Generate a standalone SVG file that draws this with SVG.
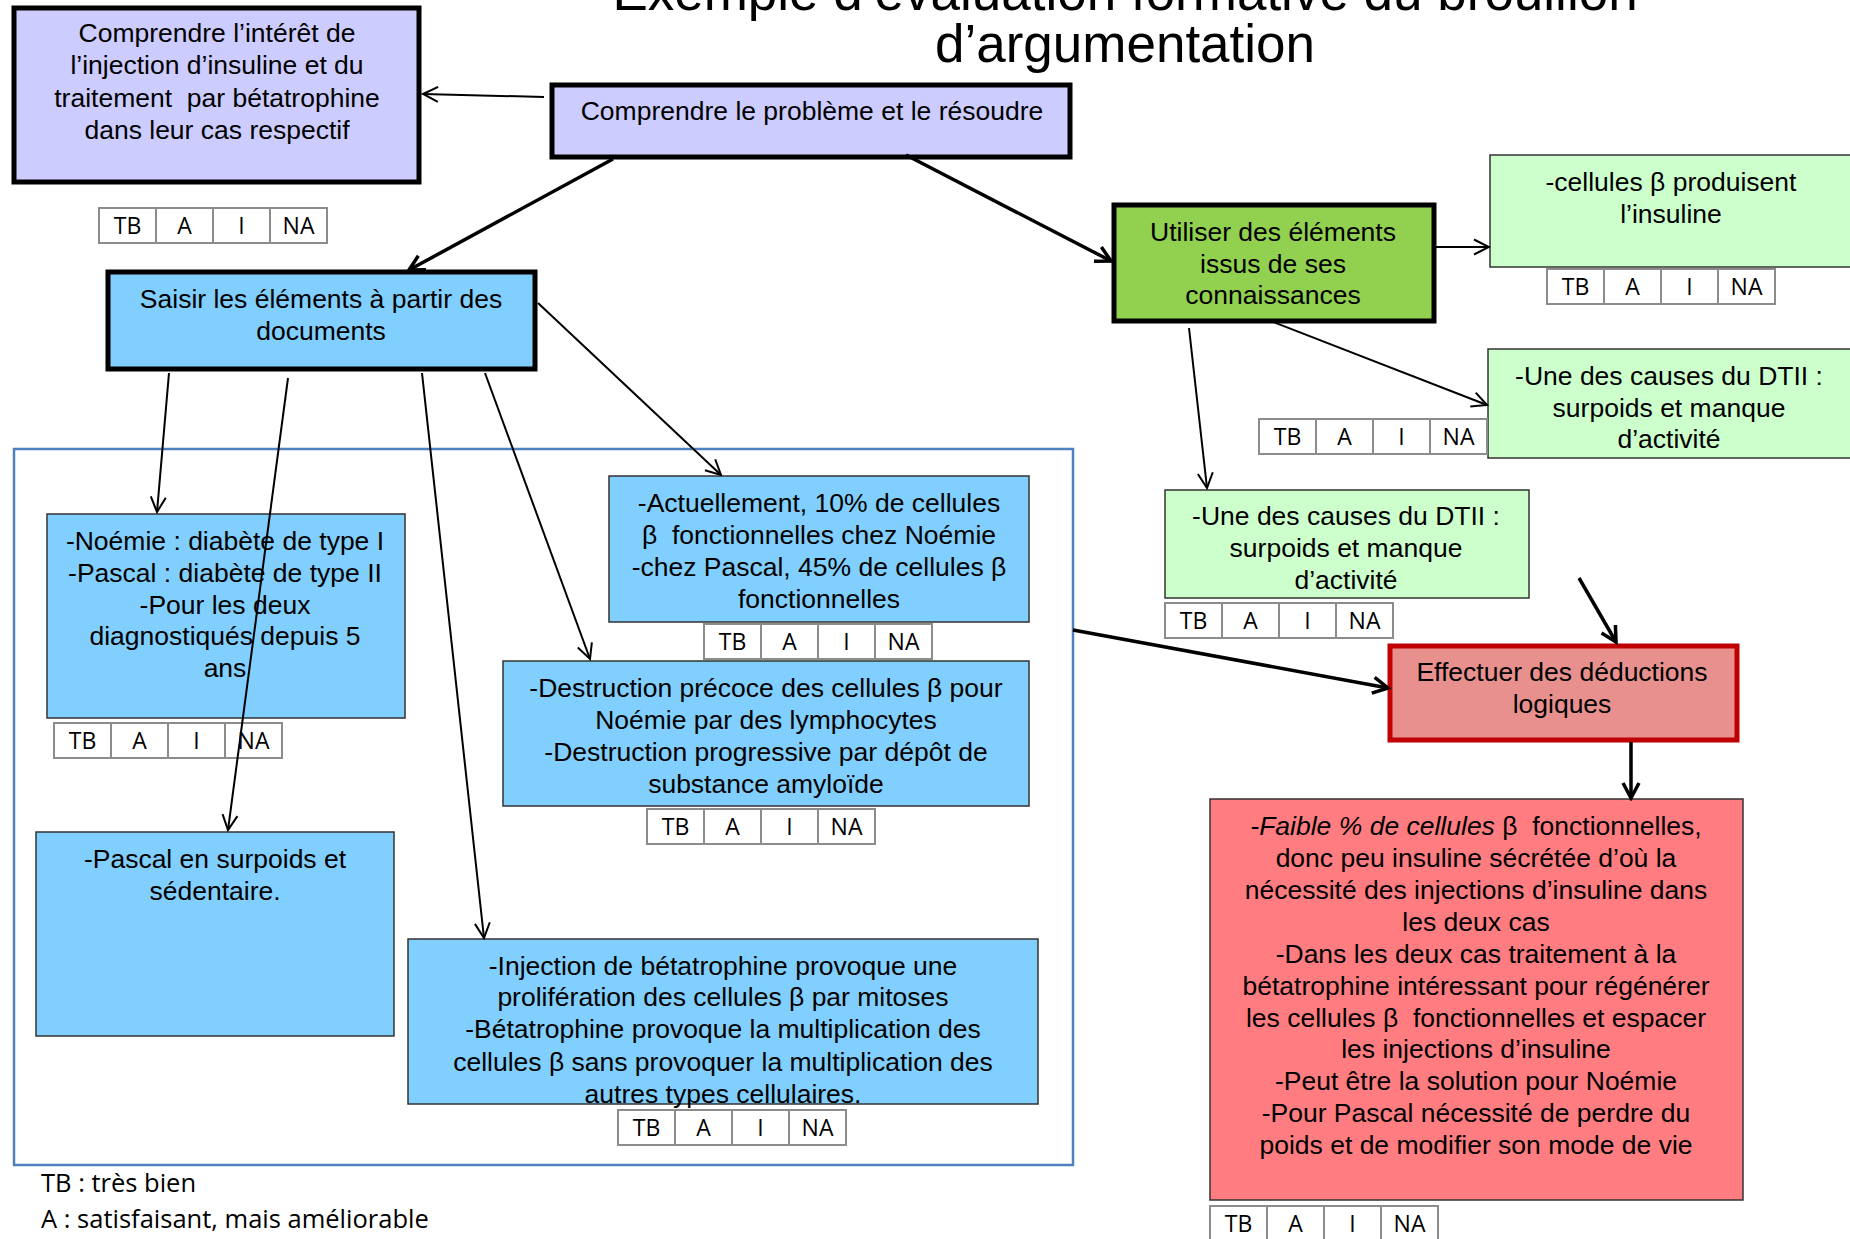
<svg xmlns="http://www.w3.org/2000/svg" xmlns:xlink="http://www.w3.org/1999/xlink" width="1850" height="1239" viewBox="0 0 1850 1239">
<style>
.t{font-family:"Liberation Sans",Arial,sans-serif;font-size:26.5px;fill:#000;text-anchor:middle}
.title{font-family:"Liberation Sans",Arial,sans-serif;font-size:53px;fill:#000;text-anchor:middle}
.lg{font-family:"Open Sans","Liberation Sans",sans-serif;font-size:25.5px;fill:#000}
.cell{fill:#fff;stroke:#8c8c8c;stroke-width:2}
.ct{font-family:"Open Sans","Liberation Sans",sans-serif;font-size:23px;fill:#000;text-anchor:middle}
.thick{stroke:#000;stroke-width:5}
.thin{stroke:#333;stroke-width:1.5}
.blue{fill:#80cfff}
.green{fill:#ccffcc}
.lila{fill:#ccccff}
.c2{fill:none;stroke:#000;stroke-width:2;marker-end:url(#a2)}
.c3{fill:none;stroke:#000;stroke-width:3.5;marker-end:url(#a3)}
</style>
<defs>
<marker id="a2" viewBox="0 0 18 18" refX="16" refY="9" markerWidth="18" markerHeight="18" markerUnits="userSpaceOnUse" orient="auto"><path d="M1,1.5 L16,9 L1,16.5" fill="none" stroke="#000" stroke-width="2"/></marker>
<marker id="a3" viewBox="0 0 20 20" refX="17" refY="10" markerWidth="20" markerHeight="20" markerUnits="userSpaceOnUse" orient="auto"><path d="M2,2 L17,10 L2,18" fill="none" stroke="#000" stroke-width="3.5"/></marker>
<g id="tbl">
<rect class="cell" x="0" y="0" width="57" height="35"/>
<rect class="cell" x="57" y="0" width="57" height="35"/>
<rect class="cell" x="114" y="0" width="57" height="35"/>
<rect class="cell" x="171" y="0" width="57" height="35"/>
<text class="ct" x="28.5" y="26">TB</text>
<text class="ct" x="85.5" y="26">A</text>
<text class="ct" x="142.5" y="26">I</text>
<text class="ct" x="199.5" y="26">NA</text>
</g>
</defs>
<rect width="1850" height="1239" fill="#fff"/>

<g id="title">
<text class="title" x="1125" y="10">Exemple d’évaluation formative du brouillon</text>
<text class="title" x="1125" y="62">d’argumentation</text>
</g>

<g id="container"><rect x="14" y="449" width="1059" height="716" fill="none" stroke="#4f81bd" stroke-width="2.5"/></g>

<g id="n-interet">
<rect class="lila thick" x="14" y="8" width="405" height="174"/>
<text class="t" x="217" y="42" xml:space="preserve"><tspan x="217">Comprendre l’intérêt de</tspan><tspan x="217" y="74">l’injection d’insuline et du</tspan><tspan x="217" y="107">traitement  par bétatrophine</tspan><tspan x="217" y="139">dans leur cas respectif</tspan></text>
<use xlink:href="#tbl" x="99" y="208"/>
</g>

<g id="n-probleme">
<rect class="lila thick" x="552" y="85" width="518" height="72"/>
<text class="t" x="812" y="120">Comprendre le problème et le résoudre</text>
</g>

<g id="n-saisir">
<rect class="blue thick" x="108" y="272" width="427" height="97"/>
<text class="t" x="321" y="308"><tspan x="321">Saisir les éléments à partir des</tspan><tspan x="321" y="340">documents</tspan></text>
</g>

<g id="n-utiliser">
<rect class="thick" fill="#92d050" x="1114" y="205" width="320" height="116"/>
<text class="t" x="1273" y="241"><tspan x="1273">Utiliser des éléments</tspan><tspan x="1273" y="273">issus de ses</tspan><tspan x="1273" y="304">connaissances</tspan></text>
</g>

<g id="n-cellules">
<rect class="green thin" x="1490" y="155" width="372" height="112"/>
<text class="t" x="1671" y="191"><tspan x="1671">-cellules β produisent</tspan><tspan x="1671" y="223">l’insuline</tspan></text>
<use xlink:href="#tbl" x="1547" y="269"/>
</g>

<g id="n-causes1">
<rect class="green thin" x="1488" y="349" width="374" height="109"/>
<text class="t" x="1669" y="385"><tspan x="1669">-Une des causes du DTII :</tspan><tspan x="1669" y="417">surpoids et manque</tspan><tspan x="1669" y="448">d’activité</tspan></text>
<use xlink:href="#tbl" x="1259" y="419"/>
</g>

<g id="n-causes2">
<rect class="green thin" x="1165" y="490" width="364" height="108"/>
<text class="t" x="1346" y="525"><tspan x="1346">-Une des causes du DTII :</tspan><tspan x="1346" y="557">surpoids et manque</tspan><tspan x="1346" y="589">d’activité</tspan></text>
<use xlink:href="#tbl" x="1165" y="603"/>
</g>

<g id="n-effectuer">
<rect x="1390" y="646" width="347" height="94" fill="#e8908e" stroke="#c00000" stroke-width="5"/>
<text class="t" x="1562" y="681"><tspan x="1562">Effectuer des déductions</tspan><tspan x="1562" y="713">logiques</tspan></text>
</g>

<g id="n-deductions">
<rect class="thin" fill="#ff7c80" x="1210" y="799" width="533" height="401"/>
<text class="t" x="1476" y="835" xml:space="preserve"><tspan x="1476"><tspan font-style="italic">-Faible % de cellules </tspan>β  fonctionnelles,</tspan><tspan x="1476" y="867">donc peu insuline sécrétée d’où la</tspan><tspan x="1476" y="899">nécessité des injections d’insuline dans</tspan><tspan x="1476" y="931">les deux cas</tspan><tspan x="1476" y="963">-Dans les deux cas traitement à la</tspan><tspan x="1476" y="995">bétatrophine intéressant pour régénérer</tspan><tspan x="1476" y="1027">les cellules β  fonctionnelles et espacer</tspan><tspan x="1476" y="1058">les injections d’insuline</tspan><tspan x="1476" y="1090">-Peut être la solution pour Noémie</tspan><tspan x="1476" y="1122">-Pour Pascal nécessité de perdre du</tspan><tspan x="1476" y="1154">poids et de modifier son mode de vie</tspan></text>
<use xlink:href="#tbl" x="1210" y="1206"/>
</g>

<g id="n-noemie">
<rect class="blue thin" x="47" y="514" width="358" height="204"/>
<text class="t" x="225" y="550"><tspan x="225">-Noémie : diabète de type I</tspan><tspan x="225" y="582">-Pascal : diabète de type II</tspan><tspan x="225" y="614">-Pour les deux</tspan><tspan x="225" y="645">diagnostiqués depuis 5</tspan><tspan x="225" y="677">ans</tspan></text>
<use xlink:href="#tbl" x="54" y="723"/>
</g>

<g id="n-pascal">
<rect class="blue thin" x="36" y="832" width="358" height="204"/>
<text class="t" x="215" y="868"><tspan x="215">-Pascal en surpoids et</tspan><tspan x="215" y="900">sédentaire.</tspan></text>
</g>

<g id="n-actuellement">
<rect class="blue thin" x="609" y="476" width="420" height="146"/>
<text class="t" x="819" y="512" xml:space="preserve"><tspan x="819">-Actuellement, 10% de cellules</tspan><tspan x="819" y="544">β  fonctionnelles chez Noémie</tspan><tspan x="819" y="576">-chez Pascal, 45% de cellules β</tspan><tspan x="819" y="608">fonctionnelles</tspan></text>
<use xlink:href="#tbl" x="704" y="624"/>
</g>

<g id="n-destruction">
<rect class="blue thin" x="503" y="661" width="526" height="145"/>
<text class="t" x="766" y="697"><tspan x="766">-Destruction précoce des cellules β pour</tspan><tspan x="766" y="729">Noémie par des lymphocytes</tspan><tspan x="766" y="761">-Destruction progressive par dépôt de</tspan><tspan x="766" y="793">substance amyloïde</tspan></text>
<use xlink:href="#tbl" x="647" y="809"/>
</g>

<g id="n-injection">
<rect class="blue thin" x="408" y="939" width="630" height="165"/>
<text class="t" x="723" y="975"><tspan x="723">-Injection de bétatrophine provoque une</tspan><tspan x="723" y="1006">prolifération des cellules β par mitoses</tspan><tspan x="723" y="1038">-Bétatrophine provoque la multiplication des</tspan><tspan x="723" y="1071">cellules β sans provoquer la multiplication des</tspan><tspan x="723" y="1103">autres types cellulaires.</tspan></text>
<use xlink:href="#tbl" x="618" y="1110"/>
</g>

<g id="legend">
<text class="lg" x="41" y="1192">TB : très bien</text>
<text class="lg" x="41" y="1228">A : satisfaisant, mais améliorable</text>
</g>

<g id="connectors">
<line class="c2" x1="544" y1="97" x2="423" y2="94"/>
<line class="c3" x1="613" y1="159" x2="409" y2="270"/>
<line class="c3" x1="906" y1="155" x2="1111" y2="261"/>
<line class="c2" x1="1435" y1="247" x2="1489" y2="247"/>
<line class="c2" x1="1268" y1="320" x2="1487" y2="405"/>
<line class="c2" x1="1189" y1="328" x2="1207" y2="488"/>
<line class="c3" x1="1579" y1="578" x2="1616" y2="642"/>
<line class="c3" x1="1631" y1="742" x2="1631" y2="798"/>
<line class="c3" x1="1073" y1="630" x2="1388" y2="688"/>
<line class="c2" x1="169" y1="373" x2="157" y2="512"/>
<line class="c2" x1="288" y1="378" x2="228" y2="830"/>
<line class="c2" x1="538" y1="303" x2="721" y2="475"/>
<line class="c2" x1="485" y1="373" x2="590" y2="659"/>
<line class="c2" x1="422" y1="373" x2="484" y2="938"/>
</g>
</svg>
